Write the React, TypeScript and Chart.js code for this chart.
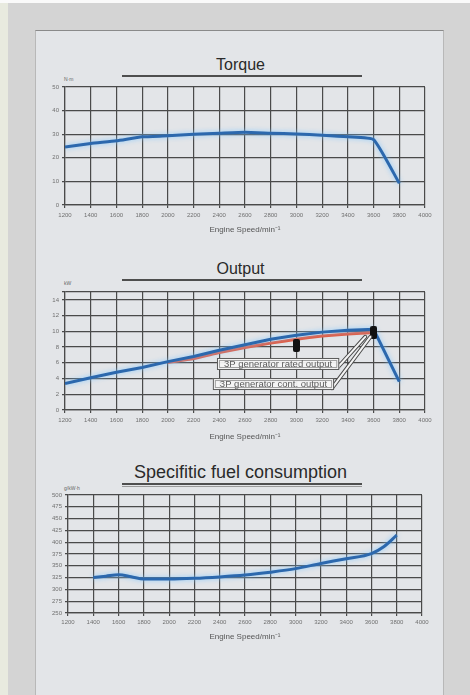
import React, { useEffect, useRef } from 'react';
import { Chart, registerables } from 'chart.js';

Chart.register(...registerables);

// ---------- data ----------
const rpmTicks = [1200, 1400, 1600, 1800, 2000, 2200, 2400, 2600, 2800, 3000, 3200, 3400, 3600, 3800, 4000];

const torqueRpm = [1200, 1400, 1600, 1800, 2000, 2200, 2400, 2600, 2800, 3000, 3200, 3400, 3600, 3800];
const torqueValues = [24.6, 26.1, 27.2, 28.9, 29.3, 30.0, 30.4, 30.8, 30.4, 30.1, 29.6, 28.9, 27.7, 9.2];
const torqueTicks = [0, 10, 20, 30, 40, 50];

const outputRpm = [1200, 1400, 1600, 1800, 2000, 2200, 2400, 2600, 2800, 3000, 3200, 3400, 3600, 3800];
const engineOutput = [3.35, 4.1, 4.8, 5.4, 6.15, 6.8, 7.6, 8.3, 9.0, 9.5, 9.9, 10.15, 10.25, 3.6];
const generatorRpm = [2000, 2200, 2400, 2600, 2800, 3000, 3200, 3400, 3600];
const generatorOutput = [6.05, 6.55, 7.3, 7.95, 8.5, 9.0, 9.4, 9.65, 9.85];
const markerRpm = [3000, 3600];
const markerOutput = [8.2, 9.85];
const outputTicks = [0, 2, 4, 6, 8, 10, 12, 14, 15];
const outputTickLabels = ['0', '2', '4', '6', '8', '10', '12', '14', ''];
const calloutLabels = ['3P generator rated output', '3P generator cont. output'];

const sfcRpm = [1400, 1500, 1600, 1700, 1800, 2000, 2200, 2400, 2600, 2800, 3000, 3200, 3400, 3600, 3700, 3800];
const sfcValues = [325, 328, 331, 327, 322, 322, 323.5, 326.5, 330.5, 336.5, 344, 355, 365, 376, 391, 415];
const sfcTicks = [250, 275, 300, 325, 350, 375, 400, 425, 450, 475, 500];

// ---------- styles ----------
const FONT = '"Liberation Sans", Arial, sans-serif';
const GRID = '#4a4a4a';
const BLUE = '#2c68ad';
const RED = '#e5573b';

const toXY = (xs: number[], ys: number[]) => xs.map((x, i) => ({ x, y: ys[i] }));

function xScale(tickPad: number, titlePad: number) {
  return {
    type: 'linear',
    min: rpmTicks[0],
    max: rpmTicks[rpmTicks.length - 1],
    afterBuildTicks: (s: any) => {
      s.ticks = rpmTicks.map((v) => ({ value: v }));
    },
    grid: { color: GRID, lineWidth: 1.2, tickLength: 3 },
    border: { color: GRID, width: 1.2 },
    ticks: {
      font: { size: 6, family: FONT },
      color: '#707070',
      padding: tickPad,
      maxRotation: 0,
      autoSkip: false,
      callback: (v: any) => String(v),
    },
    title: {
      display: true,
      text: 'Engine Speed/min⁻¹',
      font: { size: 8, family: FONT },
      color: '#555',
      padding: { top: 0, bottom: titlePad },
    },
    afterFit: (s: any) => {
      s.height = 40;
    },
  };
}

function yScale(ticks: number[], labels?: string[]) {
  return {
    type: 'linear',
    min: ticks[0],
    max: ticks[ticks.length - 1],
    afterBuildTicks: (s: any) => {
      s.ticks = ticks.map((v) => ({ value: v }));
    },
    grid: { color: GRID, lineWidth: 1.2, tickLength: 3 },
    border: { color: GRID, width: 1.2 },
    ticks: {
      font: { size: 6, family: FONT },
      color: '#707070',
      padding: 3,
      autoSkip: false,
      callback: (v: any) => {
        const i = ticks.indexOf(v);
        return labels ? labels[i] : String(v);
      },
    },
    afterFit: (s: any) => {
      s.width = 30;
    },
  };
}

const glowPlugin = {
  id: 'glow',
  beforeDatasetDraw(chart: any, args: any) {
    const ds = chart.data.datasets[args.index];
    if (ds.glow) {
      chart.ctx.save();
      chart.ctx.shadowColor = ds.glow;
      chart.ctx.shadowBlur = 5;
    }
  },
  afterDatasetDraw(chart: any, args: any) {
    const ds = chart.data.datasets[args.index];
    if (ds.glow) chart.ctx.restore();
  },
};

const calloutPlugin = {
  id: 'callouts',
  afterDatasetsDraw(chart: any, _a: any, opts: any) {
    const items = opts && opts.items;
    if (!items) return;
    const { ctx } = chart;
    const x = chart.scales.x;
    const y = chart.scales.y;
    ctx.save();
    ctx.font = `9.5px ${FONT}`;
    items.forEach((c: any) => {
      const left = x.getPixelForValue(c.x);
      const cy = y.getPixelForValue(c.y);
      const w = ctx.measureText(c.text).width + 14;
      const h = 12;
      const ex = x.getPixelForValue(c.toX);
      const ey = y.getPixelForValue(c.toY);
      const sx = left + w - 2;
      const sy = cy + h / 2 - 2;
      ctx.lineCap = 'round';
      ctx.beginPath();
      ctx.moveTo(sx, sy);
      ctx.lineTo(ex, ey);
      ctx.strokeStyle = '#4a4a4a';
      ctx.lineWidth = 4;
      ctx.stroke();
      ctx.strokeStyle = '#f4f4f4';
      ctx.lineWidth = 2;
      ctx.stroke();
      ctx.fillStyle = 'rgba(245,245,245,0.95)';
      ctx.fillRect(left, cy - h / 2, w, h);
      ctx.strokeStyle = '#5a5a5a';
      ctx.lineWidth = 1;
      ctx.strokeRect(left + 0.5, cy - h / 2 + 0.5, w - 1, h - 1);
      ctx.strokeStyle = '#a0a0a0';
      ctx.strokeRect(left + 2.5, cy - h / 2 + 2.5, w - 5, h - 5);
      ctx.fillStyle = '#5a5a5a';
      ctx.textBaseline = 'middle';
      ctx.textAlign = 'left';
      ctx.fillText(c.text, left + 7, cy + 0.5);
    });
    ctx.restore();
  },
};

type CP = { top: number; height: number; padLeft: number; padRight: number; build: () => any };

function ChartCanvas({ top, height, padLeft, padRight, build }: CP) {
  const ref = useRef<HTMLCanvasElement | null>(null);
  useEffect(() => {
    if (!ref.current) return;
    const cfg = build();
    cfg.options.layout = { padding: { left: padLeft, right: padRight, top: 12, bottom: 0 } };
    const chart = new Chart(ref.current, cfg);
    return () => chart.destroy();
  }, []);
  return (
    <canvas
      ref={ref}
      width={470}
      height={height}
      style={{ position: 'absolute', left: 0, top, width: 470, height }}
    />
  );
}

const baseOptions = (x: any, y: any, extraPlugins: any = {}) => ({
  responsive: false,
  animation: false,
  devicePixelRatio: 1,
  plugins: { legend: { display: false }, tooltip: { enabled: false }, ...extraPlugins },
  elements: { point: { radius: 0 } },
  scales: { x, y },
});

const buildTorque = () => ({
  type: 'line',
  data: {
    datasets: [
      {
        data: toXY(torqueRpm, torqueValues),
        borderColor: BLUE,
        borderWidth: 3,
        tension: 0.15,
        glow: 'rgba(130,200,255,0.9)',
      },
    ],
  },
  options: baseOptions(xScale(4, 10), yScale(torqueTicks)),
  plugins: [glowPlugin],
});

const buildOutput = () => {
  const m = document.createElement('canvas');
  m.width = 7;
  m.height = 13;
  const c = m.getContext('2d')!;
  c.fillStyle = '#111';
  c.beginPath();
  if ((c as any).roundRect) (c as any).roundRect(0, 0, 7, 13, 2);
  else c.rect(0, 0, 7, 13);
  c.fill();
  return {
    type: 'line',
    data: {
      datasets: [
        {
          data: toXY(markerRpm, markerOutput),
          showLine: false,
          pointStyle: m,
          pointRadius: 6,
          order: 0,
        },
        {
          data: toXY(outputRpm, engineOutput),
          borderColor: BLUE,
          borderWidth: 3,
          tension: 0,
          glow: 'rgba(130,200,255,0.9)',
          order: 1,
        },
        {
          data: toXY(generatorRpm, generatorOutput),
          borderColor: RED,
          borderWidth: 3,
          tension: 0.1,
          order: 2,
        },
      ],
    },
    options: baseOptions(xScale(4, 8), yScale(outputTicks, outputTickLabels), {
      callouts: {
        items: [
          { text: calloutLabels[0], x: 2382, y: 5.85, toX: 3535, toY: 9.3 },
          { text: calloutLabels[1], x: 2350, y: 3.3, toX: 3575, toY: 9.3 },
        ],
      },
    }),
    plugins: [glowPlugin, calloutPlugin],
  };
};

const buildSfc = () => ({
  type: 'line',
  data: {
    datasets: [
      {
        data: toXY(sfcRpm, sfcValues),
        borderColor: BLUE,
        borderWidth: 3,
        cubicInterpolationMode: 'monotone',
        glow: 'rgba(130,200,255,0.9)',
      },
    ],
  },
  options: baseOptions(xScale(3, 11), yScale(sfcTicks)),
  plugins: [glowPlugin],
});

const titleStyle = (top: number, size: number): React.CSSProperties => ({
  position: 'absolute',
  left: 0,
  width: 481,
  top,
  textAlign: 'center',
  fontFamily: FONT,
  fontSize: size,
  lineHeight: `${size + 2}px`,
  color: '#2a2a2a',
});

const lineStyle = (top: number, color = '#4e4e4e', h = 1.5): React.CSSProperties => ({
  position: 'absolute',
  left: 122,
  width: 240,
  top,
  height: h,
  background: color,
});

const unitStyle = (top: number): React.CSSProperties => ({
  position: 'absolute',
  left: 64,
  top,
  fontFamily: FONT,
  fontSize: 5,
  color: '#666',
  lineHeight: '6px',
});

export default function App() {
  return (
    <div
      style={{
        position: 'absolute',
        left: 0,
        top: 0,
        width: 470,
        height: 695,
        overflow: 'hidden',
        background: '#d4d4d4',
      }}
    >
      <div style={{ position: 'absolute', left: 0, top: 0, width: 470, height: 3, background: '#fafafa' }} />
      <div style={{ position: 'absolute', left: 0, top: 3, width: 8, height: 692, background: '#e8eadf' }} />
      <div
        style={{
          position: 'absolute',
          left: 35,
          top: 30,
          width: 407,
          height: 670,
          background: '#e3e5e8',
          borderTop: '1.5px solid #8a8a8a',
          borderLeft: '1px solid #b8b8b8',
          borderRight: '1px solid #b8b8b8',
        }}
      />
      <div style={titleStyle(56, 16)}>Torque</div>
      <div style={lineStyle(75)} />
      <div style={unitStyle(76)}>N·m</div>

      <div style={titleStyle(260, 16)}>Output</div>
      <div style={lineStyle(279)} />
      <div style={unitStyle(280)}>kW</div>

      <div style={titleStyle(462, 18)}>Specifitic fuel consumption</div>
      <div style={lineStyle(483)} />
      <div style={lineStyle(486, '#9a9a9a', 1)} />
      <div style={unitStyle(485)}>g/kW·h</div>

      <ChartCanvas top={75} height={170} padLeft={35} padRight={45} build={buildTorque} />
      <ChartCanvas top={280} height={170} padLeft={35} padRight={45} build={buildOutput} />
      <ChartCanvas top={483} height={170} padLeft={38} padRight={48} build={buildSfc} />
    </div>
  );
}
